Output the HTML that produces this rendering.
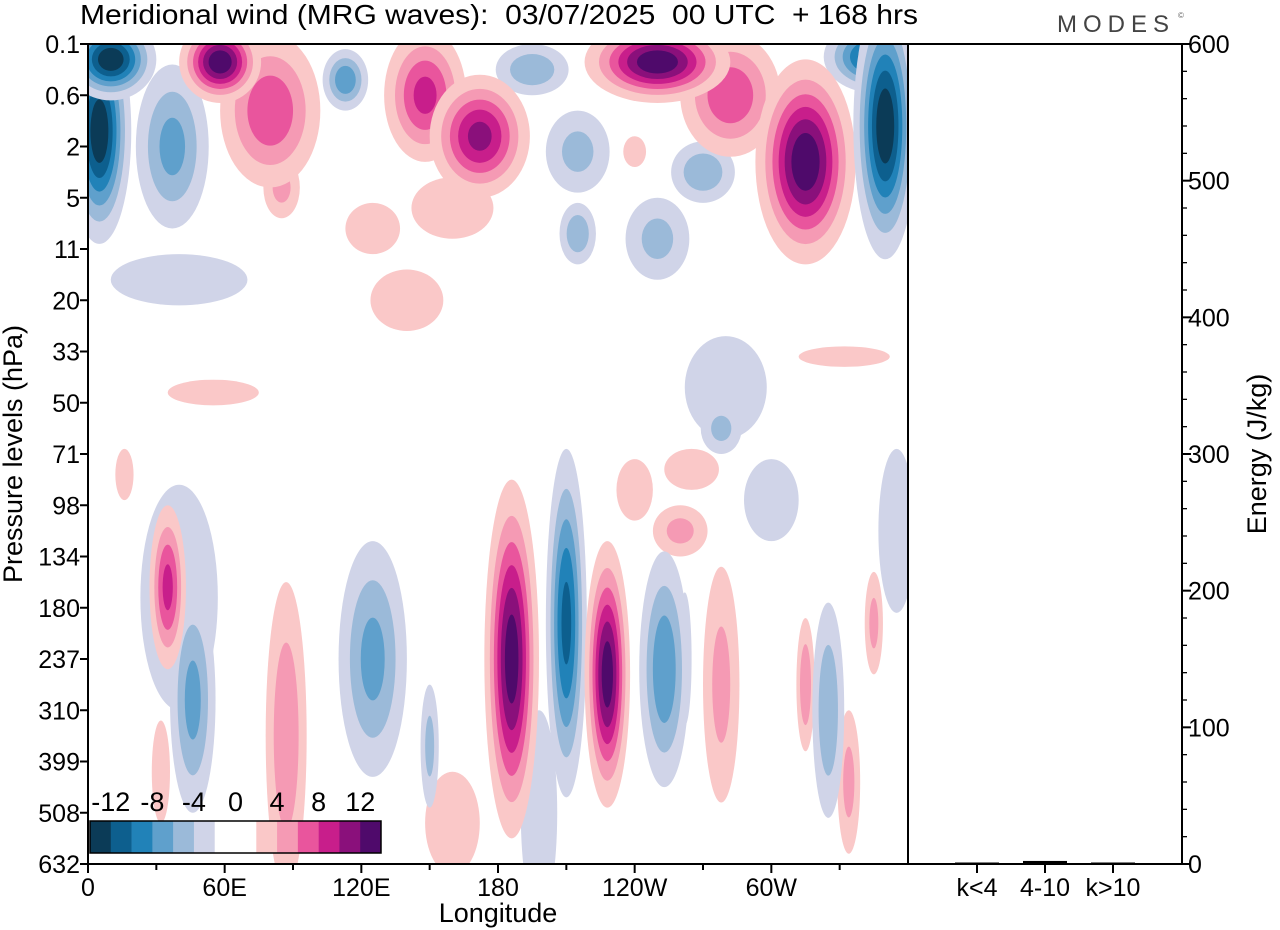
<!DOCTYPE html>
<html><head><meta charset="utf-8">
<style>
html,body{margin:0;padding:0;background:#fff;}
svg{display:block;font-family:"Liberation Sans",sans-serif;}
text{white-space:pre;}
</style></head>
<body>
<svg id="chart" width="1280" height="930" viewBox="0 0 1280 930" xmlns="http://www.w3.org/2000/svg">
<defs><clipPath id="plotclip"><rect x="88" y="44" width="820" height="820"/></clipPath></defs>
<text x="80" y="24" font-size="28" textLength="838" lengthAdjust="spacingAndGlyphs" xml:space="preserve">Meridional wind (MRG waves):  03/07/2025  00 UTC  + 168 hrs</text>
<text x="1057" y="32" font-size="24" fill="#444" letter-spacing="6">MODES</text>
<text x="1178" y="18" font-size="8" fill="#666">©</text>
<rect x="88" y="44" width="820" height="820" fill="#fff"/>
<g id="field" clip-path="url(#plotclip)"></g>
<g id="axes"></g>
</svg>
<script>
// Blob data (longitude deg, pressure level index, amplitude m/s, half-width deg, half-height levels)
const blobLon = [5,10,37,58,80,85,113,148,172,125,160,140,195,215,250,282,315,350,345,270,215,250,240,40,280,278,332,55,265,300,
                 40,35,16,46,87,32,125,150,186,210,228,253,262,278,260,240,315,325,334,345,355,160,198];
const blobLev = [1.7,0.3,2.0,0.35,1.3,2.8,0.7,1.0,1.8,3.6,3.2,5.0,0.5,2.1,0.35,1.0,2.3,1.6,0.25,2.5,3.7,3.8,2.1,4.6,6.7,7.5,6.1,6.8,8.3,8.9,
                 10.8,10.6,8.4,12.8,13.5,14.2,12.0,13.7,12.0,11.3,12.3,12.2,12.0,12.5,9.5,8.7,12.5,13.0,14.4,11.3,9.5,15.2,15.0];
const blobAmp = [-14,-14,-7,14,8,5,-8,9,11,4,3,3.5,-6,-5,14,8,14,-14,-12,-6,-6,-5,4,-3.5,-3.5,-5,2.6,2.6,3,-3,
                 -3.5,9,3,-7,6,4,-7,-5,13.5,-11,13.5,-8,-5,5,5,3,6,-6,5,5,-3,3,-3];
const blobSx = [14,20,16,18,22,8,10,18,22,12,18,16,16,14,32,22,22,14,22,14,8,14,5,30,18,9,20,20,12,12,
                17,8,4,10,9,4,15,4,12,9,10,11,3,8,12,8,4,7,5,4,8,12,8];
const blobSy = [2.2,0.8,1.6,0.8,1.5,0.6,0.6,1.3,1.2,0.5,0.6,0.6,0.5,0.8,0.8,1.2,2.0,2.6,0.7,0.6,0.6,0.8,0.3,0.5,1.0,0.5,0.2,0.25,0.4,0.8,
                2.2,1.6,0.5,2.2,3.0,1.0,2.3,1.2,3.5,3.4,2.6,2.3,1.3,2.3,0.5,0.6,1.3,2.1,1.4,1.0,1.6,1.0,2.0];
const posThresholds = [2,4,6,8,10,12];
const posColors = ["#fac8c8","#f59ab4","#e9559d","#c81e8b","#8a107b","#4f0a6b"];
const negColors = ["#d0d4e8","#9bbad9","#5fa0cc","#2182b8","#0d5f8e","#0b3b57"];
const levelLabels = ["0.1","0.6","2","5","11","20","33","50","71","98","134","180","237","310","399","508","632"];
const lonTicks = [0,60,120,180,240,300];
const lonLabels = ["0","60E","120E","180","120W","60W"];
const cbLabels = ["-12","-8","-4","0","4","8","12"];
const energyTicks = [0,100,200,300,400,500,600];
const energyCats = ["k<4","4-10","k>10"];
const energyVals = [0.3,1.5,0.3];

const NS="http://www.w3.org/2000/svg";
const X0=88,X1=908,Y0=44,Y1=864;
const xLon = l => X0 + l*(X1-X0)/360;
const yLev = i => Y0 + i*(Y1-Y0)/16;
const EX0=908,EX1=1182;
const yE = v => Y1 - v*(Y1-Y0)/600;
const xCat = i => 977 + i*68;
const FS=25, FT=27;
function mk(tag,attrs,parent){const e=document.createElementNS(NS,tag);for(const k in attrs)e.setAttribute(k,attrs[k]);parent.appendChild(e);return e;}
const field=document.getElementById('field');
const axes=document.getElementById('axes');
const svg=document.getElementById('chart');

const order=blobAmp.map((a,i)=>i).sort((a,b)=>Math.abs(blobAmp[a])-Math.abs(blobAmp[b]));
order.forEach(i=>{
  const A=Math.abs(blobAmp[i]);
  const cols=blobAmp[i]>0?posColors:negColors;
  posThresholds.forEach((t,k)=>{
    if(A<=t) return;
    const s=Math.sqrt(Math.log(A/t)/Math.log(A/2));
    const e=mk('ellipse',{cx:xLon(blobLon[i]),cy:yLev(blobLev[i]),rx:blobSx[i]*s*(X1-X0)/360,ry:blobSy[i]*s*(Y1-Y0)/16,fill:cols[k]},field);
    
    
  });
});

const cbColors=negColors.slice().reverse().concat(["#fff","#fff"]).concat(posColors);
const cb=mk('g',{},svg);


const cbw=291/14;
cbColors.forEach((c,k)=>{
  const r=mk('rect',{x:90+k*cbw,y:821,width:cbw+0.3,height:32,fill:c},cb);
  
  
});
mk('rect',{x:90,y:821,width:291,height:32,fill:'none',stroke:'#000','stroke-width':1.5},cb);
cbLabels.forEach((l,k)=>{
  const t=mk('text',{x:90+(1+2*k)*cbw,y:811,'font-size':FS+2,'text-anchor':'middle'},cb);
  t.textContent=l;
  
  
});

const f1=mk('rect',{x:X0,y:Y0,width:X1-X0,height:Y1-Y0,fill:'none',stroke:'#000','stroke-width':2},axes);


const f2=mk('rect',{x:EX0,y:Y0,width:EX1-EX0,height:Y1-Y0,fill:'none',stroke:'#000','stroke-width':2},axes);



levelLabels.forEach((l,i)=>{
  const y=yLev(i);
  mk('line',{x1:X0-8,x2:X0,y1:y,y2:y,stroke:'#000','stroke-width':2},axes);
  const t=mk('text',{x:X0-8,y:y+9,'font-size':FS,'text-anchor':'end'},axes);
  t.textContent=l;
  
  
});
const yt=mk('text',{x:22,y:454,'font-size':FT,'text-anchor':'middle',transform:'rotate(-90 22 454)'},axes);
yt.textContent='Pressure levels (hPa)';



for(let l=0;l<=330;l+=30){
  const major=l%60===0;
  mk('line',{x1:xLon(l),x2:xLon(l),y1:Y1,y2:Y1+(major?9:6),stroke:'#000','stroke-width':2},axes);
}
lonTicks.forEach((l,k)=>{
  const t=mk('text',{x:xLon(l),y:Y1+32,'font-size':FS,'text-anchor':'middle'},axes);
  t.textContent=lonLabels[k];
  
  
});
const xt=mk('text',{x:498,y:922,'font-size':FT,'text-anchor':'middle'},axes);
xt.textContent='Longitude';



for(let v=0;v<=600;v+=20){
  const major=v%100===0;
  mk('line',{x1:EX1,x2:EX1+(major?9:5),y1:yE(v),y2:yE(v),stroke:'#000','stroke-width':major?2:1.3},axes);
}
energyTicks.forEach(v=>{
  const t=mk('text',{x:EX1+6,y:yE(v)+9,'font-size':FS},axes);
  t.textContent=String(v);
  
  
});
const et=mk('text',{x:1266,y:454,'font-size':FT,'text-anchor':'middle',transform:'rotate(-90 1266 454)'},axes);
et.textContent='Energy (J/kg)';


energyCats.forEach((c,i)=>{
  mk('line',{x1:xCat(i),x2:xCat(i),y1:Y1,y2:Y1+9,stroke:'#000','stroke-width':2},axes);
  const t=mk('text',{x:xCat(i),y:Y1+32,'font-size':FS,'text-anchor':'middle'},axes);
  t.textContent=c;
  
  
  const h=Math.max(Y1-yE(energyVals[i]),0.5);
  const b=mk('rect',{x:xCat(i)-22,y:Y1-h-1,width:44,height:h+1,fill:'#000'},axes);
  
  
});
</script>
</body></html>
